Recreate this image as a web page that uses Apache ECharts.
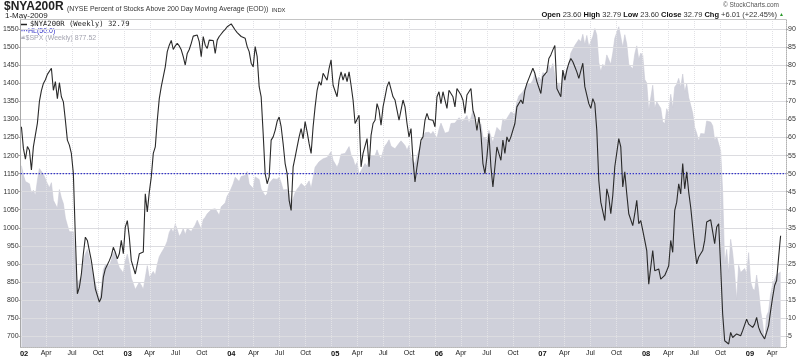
<!DOCTYPE html>
<html><head><meta charset="utf-8">
<script src="https://cdn.jsdelivr.net/npm/echarts@6.0.0/dist/echarts.min.js"></script>
<style>html,body{margin:0;padding:0;background:#fff}#c{width:800px;height:359px}</style>
</head><body><div id="c"></div>
<script>
// ---- data (weekly readings, first week .. last week) ----
const firstWeek = '2002-01-04';
const lastWeek = '2009-05-01';

const nya200r = [
63, 57, 54, 57.5, 56.5, 51, 57.5, 57, 64, 70,
73, 75, 76, 77.5, 77, 79.2, 73.1, 75.5, 70.8, 75.2,
71.3, 69.9, 64.8, 59.3, 57.9, 55.6, 50, 32.4, 16.7, 18.5,
22.2, 27.8, 32.4, 31.5, 28.7, 25.9, 22.2, 18.1, 17.6, 14.4,
15.7, 21.3, 23.6, 24.1, 25.9, 27.3, 29.6, 28.2, 26.4, 27.8,
31.5, 27.8, 35.2, 37, 32.4, 25.9, 26.4, 22.2, 22.7, 27.8,
28, 28.3, 44.4, 39.4, 44.9, 49.1, 55.6, 57.4, 64.8, 70.8,
74.1, 74.5, 79.6, 83.8, 85.6, 86.9, 84.4, 85.4, 86.1, 85.4,
84.3, 82.4, 80.1, 83.3, 84.4, 86.1, 88.1, 88.4, 88.4, 86.6,
82.4, 88, 85.6, 84.7, 87, 86.6, 86.9, 83.3, 87, 88,
88.7, 89.4, 90, 90.7, 91.2, 91.5, 91.2, 89.8, 89.1, 88.7,
88, 88.1, 87.5, 85.2, 83.8, 80.6, 79.6, 85.2, 82.4, 74.1,
71.3, 61.1, 50, 47.2, 49.1, 59.3, 60.2, 62, 64.5, 65.7,
63, 58.3, 52.8, 50, 42.6, 39.8, 51.9, 54.6, 57.4, 60.2,
62.5, 59.7, 64.4, 61.6, 58.3, 55.6, 63, 68.5, 73.1, 75.5,
74.5, 77.8, 77.8, 75.9, 79.2, 81.5, 74.5, 74.1, 71.3, 75.9,
78.2, 75.9, 77.8, 75.5, 78.2, 74.5, 70.4, 63.9, 63.4, 66.2,
51.9, 55.6, 55.1, 59.7, 51.9, 60.6, 63.9, 64.8, 69.4, 67.6,
63.4, 68.5, 71.3, 74.1, 75.5, 75, 71.3, 70.4, 67.6, 64.8,
67.6, 70.4, 68.5, 63.9, 60.2, 62.5, 53.7, 47.7, 51.9, 55.6,
59.3, 60.2, 64.8, 66.7, 65, 65.3, 64.8, 63, 71.3, 72.7,
69.4, 72.7, 70.4, 68.1, 73.1, 72.7, 71.3, 68.5, 73.6, 73.1,
71.8, 70.4, 66.7, 71.8, 72.7, 73.6, 67.6, 65.7, 62, 65.7,
61.1, 52.8, 50, 54.6, 61.1, 51.9, 46.3, 51.9, 57.4, 57,
53.7, 59.3, 55.6, 60.2, 58.8, 60.2, 60.6, 63.9, 68.5, 68.5,
70.4, 69.4, 73.1, 75, 76.4, 76.9, 79.2, 77.8, 75.5, 75.9,
72.2, 76.9, 77.3, 78.2, 81.9, 82.9, 84.3, 85.5, 73.6, 74.1,
71.3, 78.7, 75.9, 78.7, 80.6, 81.9, 81, 79.6, 78.2, 76.4,
76.4, 80.6, 74.1, 73.6, 69.4, 68.1, 70.8, 69.4, 62, 48.1,
42.1, 42.6, 37, 45.8, 43.5, 38.9, 44, 51.9, 51.5, 59.7,
57.4, 46.3, 50.5, 44.4, 38.9, 38.4, 35.6, 38.9, 42.6, 36.1,
37, 34.3, 31.5, 28.7, 19.4, 19.4, 28.7, 23.1, 23.6, 23.6,
20.8, 20.4, 21.8, 23.1, 24.5, 31.5, 28.2, 39.8, 42.1, 47.2,
44.4, 52.8, 45.8, 50.5, 44.9, 40.7, 35.2, 29.6, 25, 26.9,
27.3, 28.7, 31.5, 36.6, 37, 37.2, 37, 30.6, 35.2, 36.1,
24.1, 11.1, 3.7, 4.2, 2.8, 6, 4.6, 4.2, 5.6, 5.7,
5.1, 6.5, 6.9, 9.7, 8.3, 8.1, 7.4, 8.3, 10.2, 7.4,
6, 5.1, 4.2, 6, 7.9, 12, 15.7, 19, 20.4, 26.8, 32.79
];

const spx = [
1172, 1146, 1128, 1133, 1122, 1096, 1104, 1089, 1131, 1164,
1166, 1148, 1147, 1122, 1111, 1125, 1076, 1073, 1054, 1106,
1083, 1067, 1027, 1007, 989, 990, 989, 921, 847, 852,
864, 908, 928, 940, 916, 893, 889, 846, 827, 800,
835, 884, 897, 900, 894, 910, 930, 936, 906, 890,
895, 875, 908, 927, 901, 861, 856, 829, 834, 849,
841, 829, 833, 895, 863, 868, 879, 868, 898, 920,
930, 933, 949, 963, 987, 998, 987, 1010, 995, 976,
985, 998, 981, 998, 996, 990, 993, 1008, 1021, 1018,
996, 1023, 1029, 1039, 1036, 1050, 1051, 1053, 1050, 1035,
1058, 1061, 1069, 1088, 1096, 1109, 1122, 1140, 1134, 1128,
1142, 1140, 1145, 1156, 1121, 1120, 1109, 1141, 1140, 1134,
1107, 1098, 1088, 1094, 1123, 1122, 1136, 1135, 1134, 1140,
1125, 1105, 1101, 1106, 1094, 1064, 1080, 1098, 1107, 1114,
1123, 1128, 1113, 1111, 1130, 1109, 1114, 1168, 1165, 1183,
1182, 1191, 1189, 1195, 1194, 1211, 1187, 1184, 1168, 1181,
1204, 1201, 1206, 1211, 1225, 1201, 1191, 1172, 1181, 1148,
1158, 1156, 1178, 1171, 1190, 1199, 1197, 1200, 1216, 1200,
1191, 1211, 1227, 1234, 1244, 1226, 1230, 1219, 1218, 1234,
1241, 1237, 1228, 1215, 1228, 1196, 1186, 1177, 1199, 1215,
1220, 1248, 1263, 1266, 1265, 1259, 1267, 1268, 1248, 1273,
1290, 1287, 1262, 1264, 1266, 1289, 1287, 1290, 1287, 1305,
1302, 1295, 1297, 1311, 1289, 1305, 1325, 1291, 1267, 1281,
1288, 1252, 1251, 1244, 1270, 1265, 1236, 1240, 1278, 1279,
1266, 1302, 1295, 1303, 1298, 1321, 1319, 1315, 1349, 1366,
1368, 1377, 1380, 1396, 1401, 1400, 1409, 1427, 1410, 1418,
1409, 1430, 1431, 1423, 1449, 1438, 1455, 1451, 1387, 1402,
1386, 1436, 1421, 1443, 1452, 1484, 1495, 1505, 1505, 1522,
1515, 1536, 1507, 1533, 1502, 1503, 1530, 1552, 1534, 1458,
1433, 1453, 1445, 1479, 1474, 1453, 1484, 1525, 1527, 1557,
1561, 1500, 1535, 1509, 1453, 1458, 1440, 1481, 1504, 1467,
1484, 1478, 1411, 1401, 1325, 1330, 1395, 1331, 1349, 1353,
1331, 1294, 1288, 1330, 1316, 1370, 1332, 1390, 1398, 1414,
1389, 1426, 1376, 1400, 1361, 1361, 1318, 1278, 1262, 1240,
1261, 1258, 1260, 1296, 1298, 1293, 1283, 1242, 1252, 1255,
1213, 1099, 899, 940, 877, 968, 930, 873, 800, 896,
876, 879, 887, 872, 931, 850, 832, 826, 869, 827,
770, 735, 683, 756, 769, 816, 843, 857, 870, 866, 877.52
];

const hlLevel = 50;
const leftTicks = [700,750,800,850,900,950,1000,1050,1100,1150,1200,1250,1300,1350,1400,1450,1500,1550];
const rightTicks = [5,10,15,20,25,30,35,40,45,50,55,60,65,70,75,80,85,90];
const quarterTicks = [
'2002-01-01','2002-04-01','2002-07-01','2002-10-01',
'2003-01-01','2003-04-01','2003-07-01','2003-10-01',
'2004-01-01','2004-04-01','2004-07-01','2004-10-01',
'2005-01-01','2005-04-01','2005-07-01','2005-10-01',
'2006-01-01','2006-04-01','2006-07-01','2006-10-01',
'2007-01-01','2007-04-01','2007-07-01','2007-10-01',
'2008-01-01','2008-04-01','2008-07-01','2008-10-01',
'2009-01-01','2009-04-01'];
const quarterLabels = [
'02','Apr','Jul','Oct','03','Apr','Jul','Oct','04','Apr','Jul','Oct',
'05','Apr','Jul','Oct','06','Apr','Jul','Oct','07','Apr','Jul','Oct',
'08','Apr','Jul','Oct','09','Apr'];

// ---- build ----
const toTs = d => Date.parse(d + 'T00:00:00Z');
const t0 = toTs(firstWeek), t1 = toTs(lastWeek);
const stepMs = (t1 - t0) / (nya200r.length - 1);
const dates = nya200r.map((_, i) => t0 + i * stepMs);
const nyaData = nya200r.map((v, i) => [dates[i], v]);
const spxData = spx.map((v, i) => [dates[i], v]);
const qTs = quarterTicks.map(toTs);
const qMap = {};
qTs.forEach((t, i) => { qMap[t] = quarterLabels[i]; });

const FONT = 'Liberation Sans, Arial, sans-serif';
const HL_COLOR = '#3434c8';
const xMin = toTs('2002-01-01');
const xMax = toTs('2009-05-20');
const hlData = [[xMin, hlLevel], [xMax, hlLevel]];

const chart = echarts.init(document.getElementById('c'), null, {renderer: 'canvas'});
chart.setOption({
  animation: false,
  backgroundColor: '#ffffff',
  textStyle: {fontFamily: FONT},
  grid: {left: 20, right: 14, top: 19, bottom: 12, containLabel: false},
  xAxis: [{
    type: 'value', min: xMin, max: xMax, scale: true,
    axisLine: {show: true, lineStyle: {color: '#b4b4b4', type: 'dotted'}},
    axisTick: {show: false, customValues: qTs},
    axisLabel: {
      customValues: qTs, fontSize: 7, color: '#222', margin: 3, fontFamily: FONT,
      formatter: v => { const s = qMap[v]; if (!s) return ''; return /^\d/.test(s) ? '{y|' + s + '}' : s; },
      rich: {y: {fontWeight: 'bold', fontSize: 7.5, color: '#111', padding: [0, 0, 0, 7], fontFamily: FONT}}
    },
    splitLine: {show: true, lineStyle: {color: '#e2e2e6', type: 'dotted', width: 1}}
  }, {
    type: 'value', min: xMin, max: xMax, scale: true, position: 'top',
    axisLine: {show: true, lineStyle: {color: '#c4c4c4'}},
    axisTick: {show: false}, axisLabel: {show: false}, splitLine: {show: false}
  }],
  yAxis: [{
    type: 'value', position: 'left', min: 669.7, max: 1578.5,
    axisLine: {show: true, lineStyle: {color: '#a8a8a8'}},
    axisTick: {show: true, length: 2, customValues: leftTicks, lineStyle: {color: '#a8a8a8'}},
    axisLabel: {customValues: leftTicks, fontSize: 7, color: '#333', margin: 2, fontFamily: FONT,
      formatter: v => String(Math.round(v))},
    splitLine: {show: true, lineStyle: {color: '#dcdce0', width: 1}}
  }, {
    type: 'value', position: 'right', min: 1.97, max: 92.85,
    axisLine: {show: true, lineStyle: {color: '#b0b0b0', type: 'dotted'}},
    axisTick: {show: true, length: 2, customValues: rightTicks, lineStyle: {color: '#a8a8a8'}},
    axisLabel: {customValues: rightTicks, fontSize: 7, color: '#333', margin: 2, fontFamily: FONT,
      formatter: v => String(Math.round(v))},
    splitLine: {show: false}
  }],
  series: [{
    name: '$SPX', type: 'line', xAxisIndex: 0, yAxisIndex: 0, data: spxData,
    showSymbol: false, z: -1, silent: true,
    lineStyle: {width: 0.6, color: '#c9cad5'},
    areaStyle: {color: '#cfd0da', opacity: 1, origin: 'start'}
  }, {
    name: 'HL(50.0)', type: 'line', xAxisIndex: 0, yAxisIndex: 1, data: hlData,
    showSymbol: false, silent: true, z: 2,
    itemStyle: {color: HL_COLOR},
    lineStyle: {color: HL_COLOR, type: [1.5, 1.5], width: 1.2}
  }, {
    name: '$NYA200R', type: 'line', xAxisIndex: 0, yAxisIndex: 1, data: nyaData,
    showSymbol: false, z: 3,
    lineStyle: {width: 1.1, color: '#2a2a2a'}
  }],
  graphic: [
    {type: 'text', x: 4, y: 1, style: {
      text: '{a|$NYA200R} {b|(NYSE Percent of Stocks Above 200 Day Moving Average (EOD))} {c|INDX}',
      rich: {
        a: {fontSize: 12, fontWeight: 'bold', fill: '#222', fontFamily: FONT, verticalAlign: 'bottom'},
        b: {fontSize: 6.9, fill: '#333', fontFamily: FONT, verticalAlign: 'bottom'},
        c: {fontSize: 5.8, fill: '#333', fontFamily: FONT, verticalAlign: 'bottom'}
      }}},
    {type: 'text', x: 5, y: 12, style: {text: '1-May-2009', fontSize: 8, fill: '#222', fontFamily: FONT}},
    {type: 'text', x: 779, y: 2, style: {text: '© StockCharts.com', fontSize: 6.5, fill: '#555', fontFamily: FONT, textAlign: 'right'}},
    {type: 'text', x: 784, y: 11, style: {
      text: '{b|Open} 23.60 {b|High} 32.79 {b|Low} 23.60 {b|Close} 32.79 {b|Chg} +6.01 (+22.45%) {g|▲}',
      textAlign: 'right', fontSize: 7.5, fill: '#333', fontFamily: FONT,
      rich: {b: {fontWeight: 'bold', fontSize: 7.5, fill: '#111', fontFamily: FONT}, g: {fontSize: 5, fill: '#2a9a2a'}}
    }},
    {type: 'line', shape: {x1: 21, y1: 24.5, x2: 27, y2: 24.5}, style: {stroke: '#222', lineWidth: 1.5}},
    {type: 'text', x: 30, y: 20.5, style: {text: '$NYA200R (Weekly) 32.79', fontFamily: 'DejaVu Sans Mono', fontSize: 7.2, fill: '#222'}},
    {type: 'text', x: 21, y: 27.5, style: {text: '{d|···}{t|HL(50.0)}',
      rich: {d: {fill: HL_COLOR, fontSize: 7, fontWeight: 'bold', fontFamily: FONT}, t: {fill: HL_COLOR, fontSize: 7, fontFamily: FONT}}}},
    {type: 'polygon', shape: {points: [[21, 39], [22, 36], [23, 37.5], [24, 35], [25, 39]]}, style: {fill: '#b4b4c0'}},
    {type: 'text', x: 25.5, y: 34.5, style: {text: '$SPX (Weekly) 877.52', fontSize: 7, fill: '#a4a4b0', fontFamily: FONT}}
  ]
});
</script>
</body></html>
